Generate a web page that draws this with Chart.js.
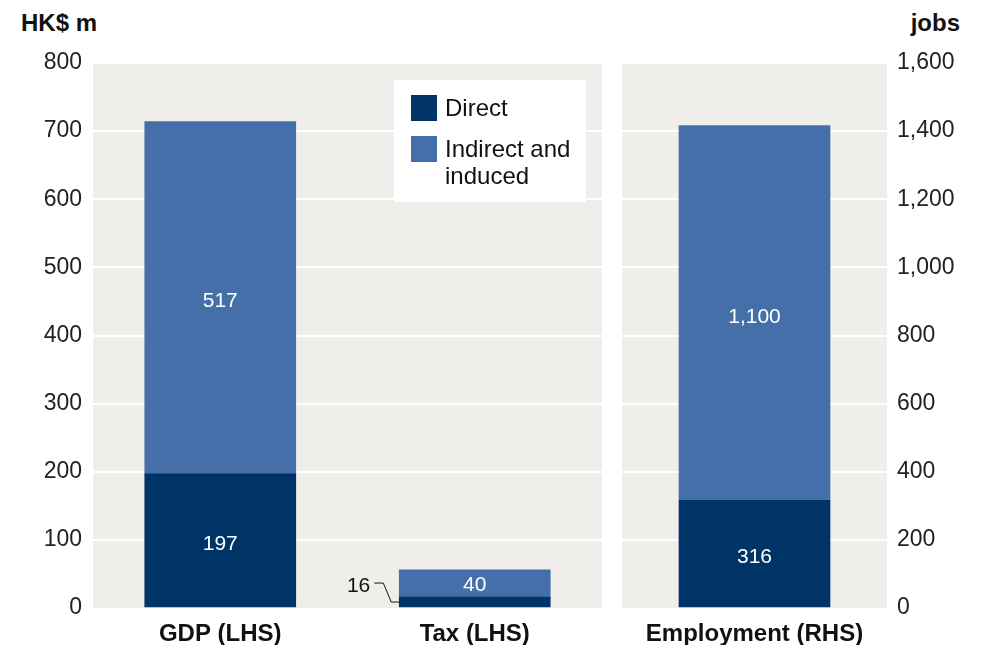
<!DOCTYPE html>
<html>
<head>
<meta charset="utf-8">
<script src="https://cdn.jsdelivr.net/npm/chart.js@4/dist/chart.umd.min.js"></script>
<style>
  body { margin: 0; background: #fff; font-family: 'Liberation Sans', Arial, sans-serif; }
  #wrap { position: relative; width: 984px; height: 645px; }
  canvas { position: absolute; top: 0; }
  .unit { position: absolute; top: 9px; font-weight: bold; font-size: 24px; color: #111; }
</style>
</head>
<body>
<div id="wrap">
  <div class="unit" style="left:21px">HK$ m</div>
  <div class="unit" style="right:24px">jobs</div>
  <canvas id="left" width="612" height="645" style="left:0"></canvas>
  <canvas id="right" width="372" height="645" style="left:612px"></canvas>
</div>
<script>
// data
const leftCategories = ['GDP (LHS)', 'Tax (LHS)'];
const leftDirect = [197, 16];
const leftIndirect = [517, 40];
const rightCategories = ['Employment (RHS)'];
const rightDirect = [316];
const rightIndirect = [1100];
const leftTicks = { min: 0, max: 800, step: 100 };
const rightTicks = { min: 0, max: 1600, step: 200 };
const seriesNames = ['Direct', 'Indirect and induced'];

const DARK = '#003366';
const LIGHT = '#456fa8';
const PANEL = '#efeeeb';
const FONT = "'Liberation Sans', Arial, sans-serif";

// grey panel behind the plot
const panelBg = {
  id: 'panelBg',
  beforeDraw(chart) {
    const { ctx, chartArea: a } = chart;
    ctx.save();
    ctx.fillStyle = PANEL;
    ctx.fillRect(a.left, a.top, a.right - a.left, a.bottom - a.top);
    ctx.restore();
  }
};

// value labels in the bars, small ones get a leader line
const barValues = {
  id: 'barValues',
  afterDatasetsDraw(chart) {
    const ctx = chart.ctx;
    ctx.save();
    ctx.font = '21px ' + FONT;
    ctx.textBaseline = 'middle';
    chart.data.datasets.forEach((ds, di) => {
      chart.getDatasetMeta(di).data.forEach((bar, i) => {
        const v = ds.data[i];
        const txt = v.toLocaleString('en-US');
        const h = bar.base - bar.y;
        const midY = (bar.y + bar.base) / 2;
        if (h > 22) {
          ctx.fillStyle = '#fff';
          ctx.textAlign = 'center';
          ctx.fillText(txt, bar.x, midY + (h > 60 ? 4 : 2));
        } else {
          const xl = bar.x - bar.width / 2;
          ctx.strokeStyle = '#111';
          ctx.lineWidth = 1;
          ctx.beginPath();
          ctx.moveTo(xl, midY);
          ctx.lineTo(xl - 8, midY);
          ctx.lineTo(xl - 16, midY - 19);
          ctx.lineTo(xl - 25, midY - 19);
          ctx.stroke();
          ctx.fillStyle = '#111';
          ctx.textAlign = 'right';
          ctx.fillText(txt, xl - 29, midY - 16);
        }
      });
    });
    ctx.restore();
  }
};

// boxed legend with wrapped labels
const boxLegend = {
  id: 'boxLegend',
  afterDraw(chart) {
    const ctx = chart.ctx;
    const lines = [['Direct'], ['Indirect and', 'induced']];
    const colors = [DARK, LIGHT];
    ctx.save();
    ctx.fillStyle = '#fff';
    ctx.fillRect(394, 80, 192, 122);
    ctx.font = '24px ' + FONT;
    ctx.textBaseline = 'middle';
    ctx.textAlign = 'left';
    let y = 95;
    lines.forEach((ln, k) => {
      ctx.fillStyle = colors[k];
      ctx.fillRect(411, y, 26, 26);
      ctx.fillStyle = '#111';
      ln.forEach((t, j) => ctx.fillText(t, 445, y + 14 + j * 27));
      y += 41;
    });
    ctx.restore();
  }
};

function makeChart(id, cats, direct, indirect, tk, side, yWidth, pad, extra) {
  return new Chart(document.getElementById(id), {
    type: 'bar',
    data: {
      labels: cats,
      datasets: [
        { label: seriesNames[0], data: direct, backgroundColor: DARK, barThickness: 151 },
        { label: seriesNames[1], data: indirect, backgroundColor: LIGHT, barThickness: 151 }
      ]
    },
    options: {
      responsive: false,
      animation: false,
      devicePixelRatio: 1,
      layout: { padding: pad },
      plugins: { legend: { display: false }, tooltip: { enabled: false } },
      scales: {
        x: {
          stacked: true,
          grid: { display: false, drawTicks: false },
          border: { display: false },
          ticks: { color: '#111', font: { family: FONT, size: 24, weight: 'bold' }, padding: 12 },
          afterFit(s) { s.height = 37; }
        },
        y: {
          stacked: true,
          position: side,
          min: tk.min,
          max: tk.max,
          grid: {
            color: c => c.tick && c.tick.value === 0 ? 'rgba(0,0,0,0)' : '#ffffff',
            lineWidth: 2,
            drawTicks: false
          },
          border: { display: false },
          ticks: {
            stepSize: tk.step,
            color: '#222',
            font: { family: FONT, size: 23 },
            padding: side === 'left' ? 11 : 10,
            callback: v => v.toLocaleString('en-US')
          },
          afterFit(s) { s.width = yWidth; }
        }
      }
    },
    plugins: [panelBg, barValues].concat(extra)
  });
}

makeChart('left', leftCategories, leftDirect, leftIndirect, leftTicks, 'left', 93,
  { top: 63, right: 10, bottom: 0, left: 0 }, [boxLegend]);
makeChart('right', rightCategories, rightDirect, rightIndirect, rightTicks, 'right', 97,
  { top: 63, right: 0, bottom: 0, left: 10 }, []);
</script>
</body>
</html>
